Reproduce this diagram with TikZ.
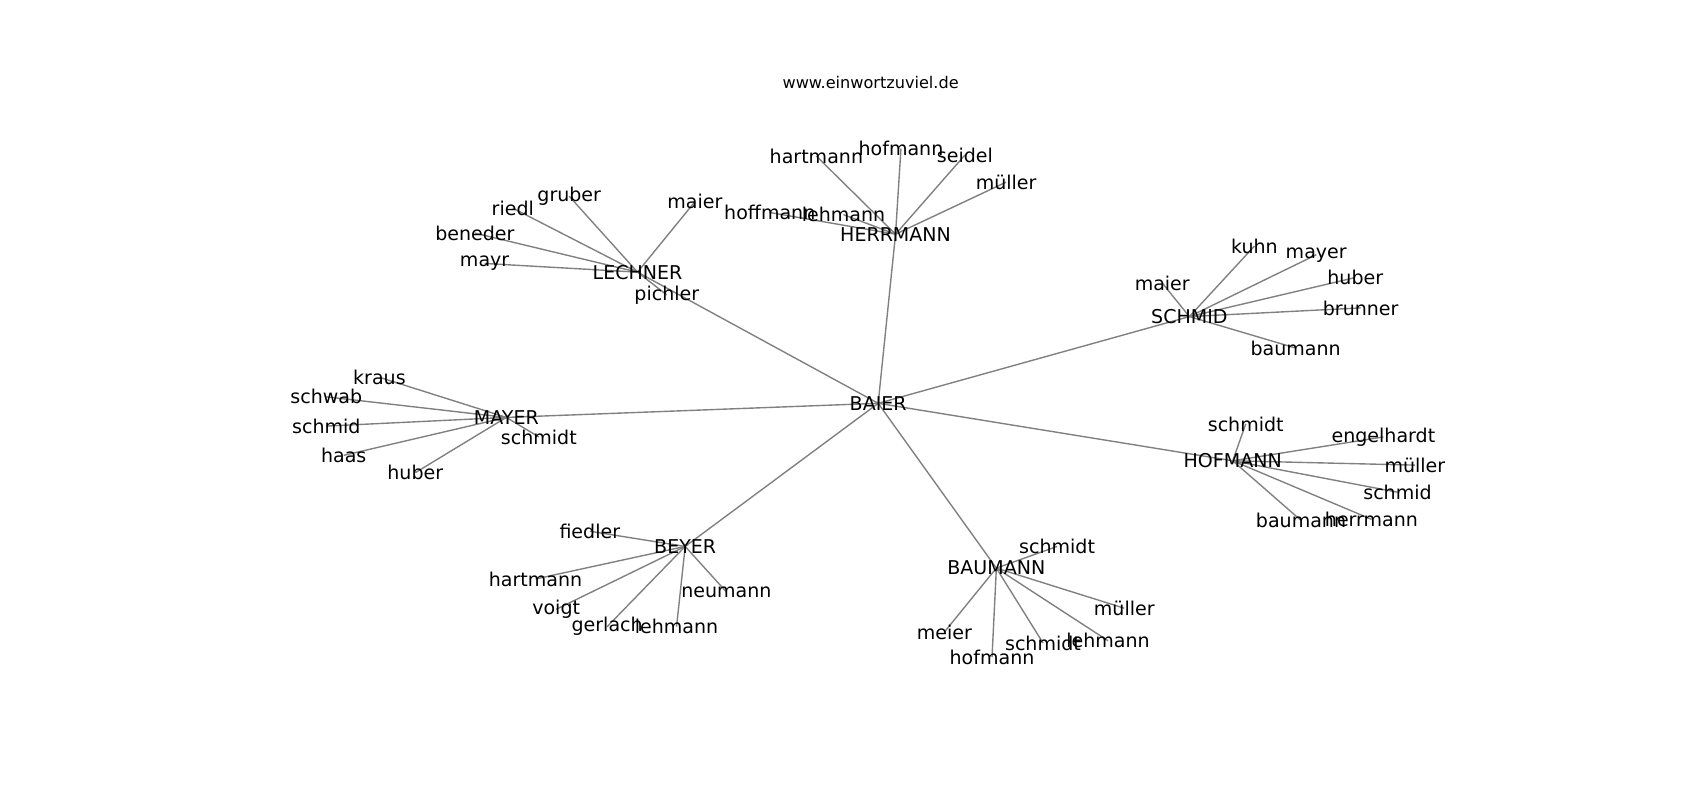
\documentclass[tikz,border=0pt]{standalone}
\usepackage{fontspec}
\setmainfont{DejaVu Sans}
\usetikzlibrary{backgrounds}

\begin{document}
\begin{tikzpicture}[
		x=0.7807pt,
		y=-0.7807pt,
		surname/.style={
			inner sep=0pt,
			font=\fontsize{13.7}{16}\selectfont
		},
		link/.style={
			draw=gray,
			line width=1pt
		}
	]
	
	\useasboundingbox (0,0) rectangle (1568,737.8);
	
	\node[font=\fontsize{11.6}{14}\selectfont] (title) at (803,76) {www.einwortzuviel.de};
	
	\node[surname] (baier) at (810,372) {BAIER};
	\node[surname] (herrmann) at (826,216) {HERRMANN};
	\node[surname] (lechner) at (588,251) {LECHNER};
	\node[surname] (schmid) at (1097,292) {SCHMID};
	\node[surname] (mayer) at (467,385) {MAYER};
	\node[surname] (hofmann) at (1137,425) {HOFMANN};
	\node[surname] (beyer) at (632,504) {BEYER};
	\node[surname] (baumann) at (919,524) {BAUMANN};
	
	\node[surname] (herHartmann) at (753,144) {hartmann};
	\node[surname] (herHofmann) at (831,137) {hofmann};
	\node[surname] (herSeidel) at (890,143) {seidel};
	\node[surname] (herMueller) at (928,168) {müller};
	\node[surname] (herHoffmann) at (710,196) {hoffmann};
	\node[surname] (herLehmann) at (778,198) {lehmann};
	
	\node[surname] (lecGruber) at (525,181) {gruber};
	\node[surname] (lecRiedl) at (473,192) {riedl};
	\node[surname] (lecMaier) at (641,186) {maier};
	\node[surname] (lecBeneder) at (438,215) {beneder};
	\node[surname] (lecMayr) at (447,243) {mayr};
	\node[surname] (lecPichler) at (615,272) {pichler};
	
	\node[surname] (schKuhn) at (1157,227) {kuhn};
	\node[surname] (schMayer) at (1214,235) {mayer};
	\node[surname] (schHuber) at (1250,256) {huber};
	\node[surname] (schMaier) at (1072,261) {maier};
	\node[surname] (schBrunner) at (1255,284) {brunner};
	\node[surname] (schBaumann) at (1195,321) {baumann};
	
	\node[surname] (mayKraus) at (350,348) {kraus};
	\node[surname] (maySchwab) at (301,366) {schwab};
	\node[surname] (maySchmid) at (301,393) {schmid};
	\node[surname] (mayHaas) at (317,420) {haas};
	\node[surname] (mayHuber) at (383,436) {huber};
	\node[surname] (maySchmidt) at (497,403) {schmidt};
	
	\node[surname] (hofSchmidt) at (1149,391) {schmidt};
	\node[surname] (hofEngelhardt) at (1276,403) {engelhardt};
	\node[surname] (hofMueller) at (1305,429) {müller};
	\node[surname] (hofSchmid) at (1289,454) {schmid};
	\node[surname] (hofHerrmann) at (1265,479) {herrmann};
	\node[surname] (hofBaumann) at (1200,480) {baumann};
	
	\node[surname] (beyFiedler) at (544,490) {fiedler};
	\node[surname] (beyHartmann) at (494,534) {hartmann};
	\node[surname] (beyVoigt) at (513,562) {voigt};
	\node[surname] (beyGerlach) at (560,578) {gerlach};
	\node[surname] (beyLehmann) at (624,578) {lehmann};
	\node[surname] (beyNeumann) at (670,546) {neumann};
	
	\node[surname] (bauSchmidt) at (975,504) {schmidt};
	\node[surname] (bauMueller) at (1037,561) {müller};
	\node[surname] (bauMeier) at (871,583) {meier};
	\node[surname] (bauHofmann) at (915,606) {hofmann};
	\node[surname] (bauSchmidtb) at (962,593) {schmidt};
	\node[surname] (bauLehmann) at (1022,591) {lehmann};
	
	\begin{scope}[on background layer]
		\draw[link] (baier.center) -- (herrmann.center);
		\draw[link] (baier.center) -- (lechner.center);
		\draw[link] (baier.center) -- (schmid.center);
		\draw[link] (baier.center) -- (mayer.center);
		\draw[link] (baier.center) -- (hofmann.center);
		\draw[link] (baier.center) -- (beyer.center);
		\draw[link] (baier.center) -- (baumann.center);
		
		\draw[link] (herrmann.center) -- (herHartmann.center);
		\draw[link] (herrmann.center) -- (herHofmann.center);
		\draw[link] (herrmann.center) -- (herSeidel.center);
		\draw[link] (herrmann.center) -- (herMueller.center);
		\draw[link] (herrmann.center) -- (herHoffmann.center);
		\draw[link] (herrmann.center) -- (herLehmann.center);
		
		\draw[link] (lechner.center) -- (lecGruber.center);
		\draw[link] (lechner.center) -- (lecRiedl.center);
		\draw[link] (lechner.center) -- (lecMaier.center);
		\draw[link] (lechner.center) -- (lecBeneder.center);
		\draw[link] (lechner.center) -- (lecMayr.center);
		\draw[link] (lechner.center) -- (lecPichler.center);
		
		\draw[link] (schmid.center) -- (schKuhn.center);
		\draw[link] (schmid.center) -- (schMayer.center);
		\draw[link] (schmid.center) -- (schHuber.center);
		\draw[link] (schmid.center) -- (schMaier.center);
		\draw[link] (schmid.center) -- (schBrunner.center);
		\draw[link] (schmid.center) -- (schBaumann.center);
		
		\draw[link] (mayer.center) -- (mayKraus.center);
		\draw[link] (mayer.center) -- (maySchwab.center);
		\draw[link] (mayer.center) -- (maySchmid.center);
		\draw[link] (mayer.center) -- (mayHaas.center);
		\draw[link] (mayer.center) -- (mayHuber.center);
		\draw[link] (mayer.center) -- (maySchmidt.center);
		
		\draw[link] (hofmann.center) -- (hofSchmidt.center);
		\draw[link] (hofmann.center) -- (hofEngelhardt.center);
		\draw[link] (hofmann.center) -- (hofMueller.center);
		\draw[link] (hofmann.center) -- (hofSchmid.center);
		\draw[link] (hofmann.center) -- (hofHerrmann.center);
		\draw[link] (hofmann.center) -- (hofBaumann.center);
		
		\draw[link] (beyer.center) -- (beyFiedler.center);
		\draw[link] (beyer.center) -- (beyHartmann.center);
		\draw[link] (beyer.center) -- (beyVoigt.center);
		\draw[link] (beyer.center) -- (beyGerlach.center);
		\draw[link] (beyer.center) -- (beyLehmann.center);
		\draw[link] (beyer.center) -- (beyNeumann.center);
		
		\draw[link] (baumann.center) -- (bauSchmidt.center);
		\draw[link] (baumann.center) -- (bauMueller.center);
		\draw[link] (baumann.center) -- (bauMeier.center);
		\draw[link] (baumann.center) -- (bauHofmann.center);
		\draw[link] (baumann.center) -- (bauSchmidtb.center);
		\draw[link] (baumann.center) -- (bauLehmann.center);
	\end{scope}
	
\end{tikzpicture}
\end{document}
